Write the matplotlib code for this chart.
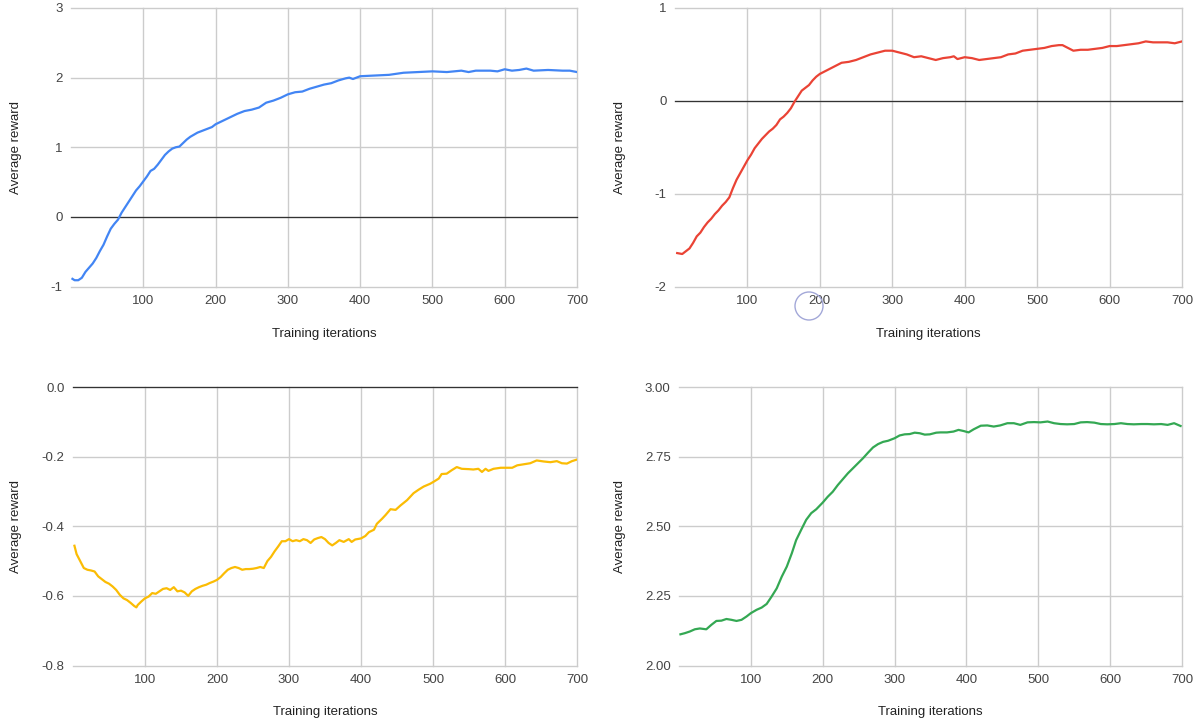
import matplotlib
matplotlib.use("Agg")
import matplotlib.pyplot as plt
from matplotlib.patches import Ellipse
from matplotlib.ticker import FormatStrFormatter

# --- data ---
blue_iter = [2, 5, 10, 15, 20, 25, 30, 35, 40, 45, 50, 55, 60, 65, 70, 75, 80, 85, 90, 95,
             100, 105, 110, 115, 120, 125, 130, 135, 140, 145, 150, 155, 160, 165, 170, 175,
             180, 185, 190, 195, 200, 210, 220, 230, 240, 250, 260, 270, 280, 290, 300, 310,
             320, 330, 340, 350, 360, 370, 380, 385, 390, 400, 420, 440, 460, 480, 500, 520,
             540, 550, 560, 580, 590, 600, 610, 620, 630, 640, 660, 680, 690, 700]
blue_reward = [-0.89, -0.91, -0.91, -0.875, -0.79, -0.73, -0.67, -0.59, -0.49, -0.40,
               -0.28, -0.17, -0.10, -0.04, 0.06, 0.14, 0.22, 0.30, 0.38, 0.44,
               0.51, 0.58, 0.66, 0.69, 0.75, 0.82, 0.89, 0.94, 0.98, 1.00,
               1.01, 1.06, 1.11, 1.15, 1.18, 1.21, 1.23, 1.25, 1.27, 1.29,
               1.33, 1.38, 1.43, 1.48, 1.52, 1.54, 1.57, 1.64, 1.67, 1.71,
               1.76, 1.79, 1.80, 1.84, 1.87, 1.90, 1.92, 1.96, 1.99, 2.00,
               1.98, 2.02, 2.03, 2.04, 2.07, 2.08, 2.09, 2.08, 2.10, 2.08,
               2.10, 2.10, 2.09, 2.12, 2.10, 2.11, 2.13, 2.10, 2.11, 2.10,
               2.10, 2.08]

red_iter = [3, 10, 15, 20, 25, 30, 35, 40, 45, 50, 55, 60, 65, 70, 75, 80, 85, 90, 95, 100,
            105, 110, 115, 120, 125, 130, 135, 140, 145, 150, 155, 160, 165, 170, 175, 180,
            185, 190, 195, 200, 210, 220, 230, 240, 250, 260, 270, 280, 290, 300, 310, 320,
            330, 340, 350, 360, 370, 380, 385, 390, 400, 410, 420, 430, 440, 450, 460, 470,
            480, 490, 500, 510, 520, 530, 535, 545, 550, 560, 570, 580, 590, 600, 610, 620,
            630, 640, 650, 660, 670, 680, 690, 700]
red_reward = [-1.64, -1.65, -1.62, -1.59, -1.53, -1.46, -1.42, -1.36, -1.31, -1.27,
              -1.22, -1.18, -1.13, -1.09, -1.04, -0.94, -0.85, -0.78, -0.71, -0.64,
              -0.58, -0.51, -0.46, -0.41, -0.37, -0.33, -0.30, -0.26, -0.20, -0.17,
              -0.13, -0.08, -0.01, 0.05, 0.11, 0.14, 0.17, 0.22, 0.26, 0.29,
              0.33, 0.37, 0.41, 0.42, 0.44, 0.47, 0.50, 0.52, 0.54, 0.54,
              0.52, 0.50, 0.47, 0.48, 0.46, 0.44, 0.46, 0.47, 0.48, 0.45,
              0.47, 0.46, 0.44, 0.45, 0.46, 0.47, 0.50, 0.51, 0.54, 0.55,
              0.56, 0.57, 0.59, 0.60, 0.60, 0.56, 0.54, 0.55, 0.55, 0.56,
              0.57, 0.59, 0.59, 0.60, 0.61, 0.62, 0.64, 0.63, 0.63, 0.63,
              0.62, 0.64]

yellow_iter = [2, 5, 10, 15, 20, 25, 30, 35, 40, 45, 50, 55, 60, 65, 70, 75, 80, 85, 88, 90,
               95, 100, 105, 110, 115, 120, 125, 130, 135, 140, 145, 150, 155, 160, 165, 170,
               175, 180, 185, 190, 195, 200, 205, 210, 215, 220, 225, 230, 235, 240, 245, 250,
               255, 260, 265, 270, 275, 280, 285, 290, 295, 300, 305, 310, 315, 320, 325, 330,
               335, 340, 345, 350, 355, 360, 365, 370, 376, 383, 387, 392, 400, 406, 411, 418,
               422, 429, 434, 441, 448, 455, 464, 473, 480, 487, 496, 501, 508, 512, 519, 526,
               533, 540, 550, 556, 563, 568, 573, 577, 584, 594, 600, 610, 617, 626, 635, 644,
               654, 663, 672, 679, 686, 693, 699]
yellow_reward = [-0.456, -0.48, -0.50, -0.52, -0.525, -0.527, -0.53, -0.544, -0.552, -0.56,
                 -0.565, -0.573, -0.583, -0.597, -0.607, -0.612, -0.62, -0.629, -0.633, -0.626,
                 -0.616, -0.607, -0.602, -0.592, -0.594, -0.587, -0.58, -0.578, -0.583, -0.575,
                 -0.587, -0.585, -0.59, -0.60, -0.587, -0.58, -0.575, -0.571, -0.568, -0.563,
                 -0.559, -0.554, -0.546, -0.535, -0.525, -0.52, -0.517, -0.52, -0.525, -0.523,
                 -0.523, -0.522, -0.52, -0.517, -0.52, -0.50, -0.488, -0.472, -0.458, -0.443,
                 -0.443, -0.437, -0.443, -0.44, -0.443, -0.437, -0.44, -0.448, -0.438, -0.434,
                 -0.431, -0.437, -0.448, -0.455, -0.448, -0.44, -0.445, -0.437, -0.445, -0.438,
                 -0.435, -0.428, -0.417, -0.41, -0.393, -0.379, -0.368, -0.351, -0.353, -0.34,
                 -0.325, -0.305, -0.295, -0.286, -0.278, -0.272, -0.263, -0.25, -0.249, -0.239,
                 -0.23, -0.235, -0.236, -0.237, -0.235, -0.244, -0.235, -0.241, -0.235, -0.232,
                 -0.232, -0.232, -0.225, -0.222, -0.219, -0.211, -0.214, -0.216, -0.213, -0.219,
                 -0.22, -0.213, -0.209]

green_iter = [2, 8, 15, 22, 29, 38, 45, 52, 59, 66, 73, 80, 87, 94, 100, 108, 115, 122, 129,
              136, 143, 150, 157, 163, 170, 177, 184, 191, 200, 207, 214, 221, 228, 235, 242,
              249, 256, 263, 270, 277, 284, 291, 300, 307, 314, 321, 328, 335, 342, 349, 358,
              364, 373, 382, 389, 396, 403, 410, 420, 429, 438, 447, 457, 466, 475, 485, 494,
              503, 513, 522, 531, 540, 550, 559, 568, 578, 587, 596, 606, 615, 624, 633, 643,
              652, 661, 671, 680, 689, 698]
green_reward = [2.112, 2.116, 2.122, 2.13, 2.133, 2.13, 2.146, 2.16, 2.161, 2.167,
                2.164, 2.16, 2.164, 2.176, 2.188, 2.20, 2.208, 2.221, 2.248, 2.277,
                2.319, 2.355, 2.403, 2.45, 2.487, 2.523, 2.547, 2.561, 2.585, 2.606,
                2.624, 2.648, 2.669, 2.69, 2.708, 2.726, 2.744, 2.764, 2.783, 2.795,
                2.803, 2.807, 2.816, 2.826, 2.83, 2.831, 2.836, 2.834, 2.829, 2.83,
                2.836, 2.837, 2.837, 2.84, 2.846, 2.842, 2.837, 2.848, 2.861, 2.862,
                2.858, 2.862, 2.87, 2.87, 2.864, 2.873, 2.874, 2.873, 2.876, 2.87,
                2.867, 2.866, 2.867, 2.873, 2.874, 2.872, 2.867, 2.866, 2.867, 2.87,
                2.867, 2.866, 2.867, 2.867, 2.866, 2.867, 2.864, 2.87, 2.86]

x_ticks = [100, 200, 300, 400, 500, 600, 700]

# style tokens
GRID, ZERO = "#cccccc", "#333333"
TICK_C, LABEL_C = "#444444", "#222222"
W, H = 1201, 721

plt.rcParams.update({"font.family": ["Liberation Sans", "DejaVu Sans"], "font.size": 9})
fig = plt.figure(figsize=(W / 100, H / 100), dpi=100, facecolor="white")


def panel(box, ylab_x, xs, ys, color, ylim, yticks, fmt):
    l, t, r, b = box
    ax = fig.add_axes([l / W, 1 - b / H, (r - l) / W, (b - t) / H])
    ax.plot(xs, ys, color=color, lw=1.6, solid_joinstyle="round", zorder=3)
    ax.set_xlim(0, 700)
    ax.set_ylim(*ylim)
    ax.set_xticks(x_ticks)
    ax.set_yticks(yticks)
    ax.yaxis.set_major_formatter(FormatStrFormatter(fmt))
    ax.grid(True, color=GRID, lw=1.0)
    ax.set_axisbelow(True)
    for gl in ax.get_xgridlines() + ax.get_ygridlines():
        gl.set_clip_on(False)
    if ylim[0] <= 0 <= ylim[1]:
        ax.axhline(0, color=ZERO, lw=0.9, zorder=2, clip_on=False)
    for s in ax.spines.values():
        s.set_visible(False)
    ax.tick_params(length=0, colors=TICK_C, labelsize=9.5)
    ax.tick_params(axis="x", pad=6)
    ax.tick_params(axis="y", pad=6)
    ax.set_xlabel("Training iterations", color=LABEL_C, fontsize=9.5)
    ax.set_ylabel("Average reward", color=LABEL_C, fontsize=9.5)
    # axis titles sit at fixed pixel spots, like the original page
    ax.yaxis.set_label_coords(-(l - ylab_x) / (r - l), 0.5)
    ax.xaxis.set_label_coords(0.5, -41 / (b - t))
    return ax


panel((71, 8, 577, 286.5), 22, blue_iter, blue_reward, "#4285F4", (-1, 3),
      [-1, 0, 1, 2, 3], "%d")
panel((675, 8, 1182, 286.5), 626, red_iter, red_reward, "#EA4335", (-2, 1),
      [-2, -1, 0, 1], "%d")
panel((73, 387, 577, 665.5), 22, yellow_iter, yellow_reward, "#FBBC04", (-0.8, 0.0),
      [-0.8, -0.6, -0.4, -0.2, 0.0], "%.1f")
panel((679, 387, 1182, 665.5), 626, green_iter, green_reward, "#34A853", (2.0, 3.0),
      [2.0, 2.25, 2.5, 2.75, 3.0], "%.2f")

# faint cursor ring left over in the screenshot
fig.patches.append(Ellipse((809 / W, 1 - 306 / H), 28 / W, 28 / H, transform=fig.transFigure,
                           fill=False, edgecolor="#a3a8d8", lw=1.0))

fig.savefig("out.png", dpi=100, facecolor="white")
